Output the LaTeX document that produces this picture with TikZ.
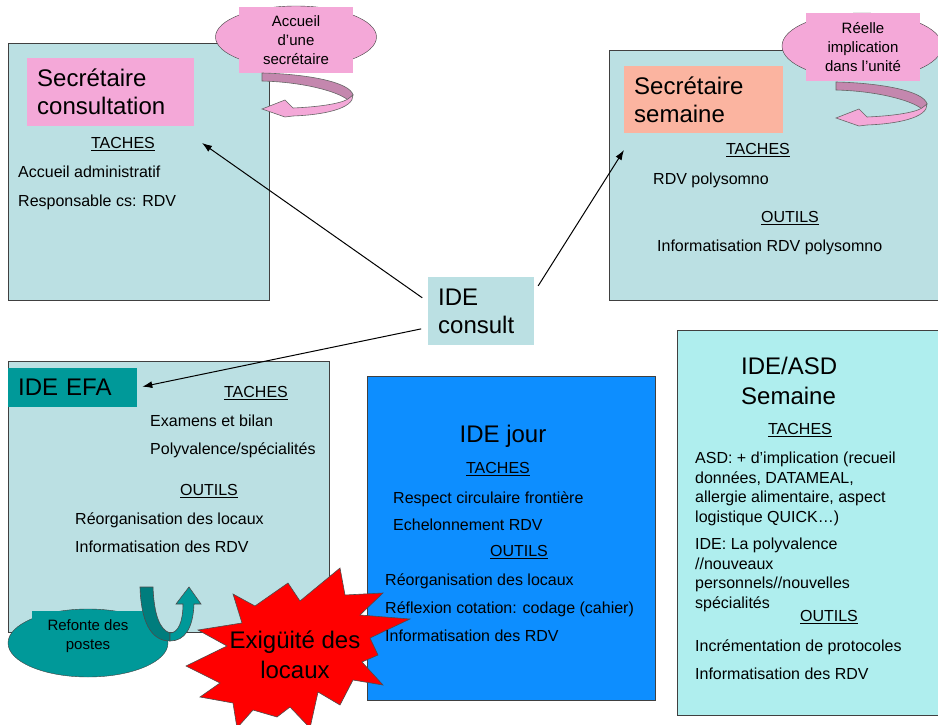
\documentclass[tikz,border=0pt]{standalone}
\usepackage{fontspec}
\setmainfont{Liberation Sans}
\usetikzlibrary{shapes.geometric, arrows.meta}

\definecolor{consblue}{HTML}{BBE0E3}
\definecolor{asdcyan}{HTML}{AFEEEE}
\definecolor{jourblue}{HTML}{0D8EFF}
\definecolor{secpink}{HTML}{F4A8D8}
\definecolor{pinkdark}{HTML}{C487AE}
\definecolor{salmon}{HTML}{FBB4A0}
\definecolor{efateal}{HTML}{009999}
\definecolor{efadark}{HTML}{007D7D}

\begin{document}
\begin{tikzpicture}[x=1pt, y=-1pt,
    box/.style={draw=black!75, line width=1pt, anchor=north west, inner sep=0pt},
    tag/.style={anchor=north west, inner xsep=10pt, inner ysep=0pt, align=left,
                font=\fontsize{24}{28}\selectfont},
    big/.style={font=\fontsize{24}{30}\selectfont, inner sep=0pt, align=left},
    head/.style={font=\fontsize{16}{19.5}\selectfont, inner sep=0pt, anchor=mid, yshift=-4pt},
    item/.style={font=\fontsize{16}{19.5}\selectfont, inner sep=0pt, anchor=mid west, yshift=-4pt},
    para/.style={font=\fontsize{16}{19.5}\selectfont, inner sep=0pt, anchor=west, align=left, yshift=-3pt},
    bubble/.style={font=\fontsize{15}{19}\selectfont, inner sep=0pt, align=center},
    link/.style={-{Latex[length=10pt,width=7pt]}, line width=1pt, shorten <=7pt},
    twist/.pic={
      \filldraw[fill=pinkdark, draw=black!60, line width=.6pt]
        (0,0) .. controls (45,1) and (88,9) .. (91,22) -- (86,27)
        .. controls (75,18) and (40,9) .. (0,8) -- cycle;
      \filldraw[fill=secpink, draw=black!60, line width=.6pt]
        (86,26) .. controls (78,31) and (55,34) .. (31,35) -- (23,27) -- (0,36)
        -- (23,44) -- (31,43) .. controls (60,42) and (92,36) .. (91,22) -- cycle;
    }]
\useasboundingbox (0,0) rectangle (938,725);

% boxes
\node[box, fill=consblue, minimum width=261pt, minimum height=257pt] (secc) at (8,43) {};
\node[box, fill=consblue, minimum width=336pt, minimum height=250pt] (secs) at (609,50) {};
\node[box, fill=consblue, minimum width=321pt, minimum height=271pt] (efabox) at (8,361) {};
\node[box, fill=jourblue, minimum width=288pt, minimum height=324pt] (jour) at (367,376) {};
\node[box, fill=asdcyan, minimum width=265pt, minimum height=385pt] (asd) at (677,330) {};

% titles
\node[tag, fill=secpink, text width=147pt, minimum height=68pt] (cons-t) at (27,58) {Secrétaire\\consultation};
\node[tag, fill=salmon, text width=139pt, minimum height=67pt] (sem-t) at (624,66) {Secrétaire\\semaine};
\node[tag, fill=efateal, text width=109pt, minimum height=39pt] (efa) at (8,368) {IDE EFA};
\node[tag, fill=consblue, text width=86pt, minimum height=68pt] (consult) at (428,277) {IDE\\consult};
\node[big, anchor=mid, yshift=-5pt] (jour-t) at (503,435) {IDE jour};
\node[big, anchor=west] (asd-t) at (741,381) {IDE/ASD\\Semaine};

% bubbles
\node[ellipse, draw=black!75, fill=secpink, minimum width=161pt, minimum height=62pt] (acc-e) at (296,37) {};
\node[bubble, fill=secpink, minimum width=114pt, minimum height=66pt] (acc) at (296,40) {Accueil\\d’une\\secrétaire};
\node[ellipse, draw=black!75, fill=secpink, minimum width=160pt, minimum height=66pt] (impl-e) at (862,46) {};
\node[bubble, fill=secpink, minimum width=114pt, minimum height=68pt] (impl) at (863,47) {Réelle\\implication\\dans l’unité};
\pic at (262,73) {twist};
\pic at (836,82) {twist};

% refonte
\node[ellipse, draw=black!75, fill=efateal, minimum width=160pt, minimum height=68pt] (ref-e) at (88,643) {};
\node[bubble, fill=efateal, minimum width=113pt, minimum height=50pt] (ref) at (88,636) {Refonte des\\postes};
\filldraw[fill=efadark, draw=black!70, line width=.6pt]
  (140,587) -- (153,587) .. controls (154,615) and (160,630) .. (170,633)
  -- (170,641) .. controls (150,641) and (141,620) .. (140,587) -- cycle;
\filldraw[fill=efateal, draw=black!70, line width=.6pt]
  (170,641) .. controls (185,641) and (193,628) .. (194,604) -- (201,604) -- (189,587)
  -- (176,604) -- (183,604) .. controls (183,622) and (178,633) .. (170,633) -- cycle;

% exiguite
\filldraw[fill=red, draw=black!70, line width=.6pt]
  (186,666) -- (227,646) -- (198,630) -- (242,623) -- (233,594) -- (255,606)
  -- (288,583) -- (300,601) -- (340,568) -- (345,595) -- (383,593) -- (360,615)
  -- (410,619) -- (370,638) -- (378,655) -- (362,662) -- (383,685) -- (353,680)
  -- (340,705) -- (318,692) -- (310,728) -- (290,707) -- (277,717) -- (253,710)
  -- (237,728) -- (233,703) -- (200,697) -- (220,683) -- cycle;
\node[big, align=center, anchor=center] (exig) at (295,655) {Exigüité des\\locaux};

% secretaire consultation
\node[head] (c-tach) at (123,142) {\underline{TACHES}};
\node[item] (c-t1) at (18,171) {Accueil administratif};
\node[item] (c-t2) at (18,200) {Responsable cs: RDV};

% secretaire semaine
\node[head] (s-tach) at (758,148) {\underline{TACHES}};
\node[item] (s-t1) at (653,178) {RDV polysomno};
\node[head] (s-out) at (790,216) {\underline{OUTILS}};
\node[item] (s-o1) at (657,245) {Informatisation RDV polysomno};

% ide efa
\node[head] (e-tach) at (256,391) {\underline{TACHES}};
\node[item] (e-t1) at (150,420) {Examens et bilan};
\node[item] (e-t2) at (150,448) {Polyvalence/spécialités};
\node[head] (e-out) at (209,489) {\underline{OUTILS}};
\node[item] (e-o1) at (75,518) {Réorganisation des locaux};
\node[item] (e-o2) at (75,546) {Informatisation des RDV};

% ide jour
\node[head] (j-tach) at (498,467) {\underline{TACHES}};
\node[item] (j-t1) at (393,497) {Respect circulaire frontière};
\node[item] (j-t2) at (393,524) {Echelonnement RDV};
\node[head] (j-out) at (519,550) {\underline{OUTILS}};
\node[item] (j-o1) at (385,579) {Réorganisation des locaux};
\node[item] (j-o2) at (385,607) {Réflexion cotation: codage (cahier)};
\node[item] (j-o3) at (385,635) {Informatisation des RDV};

% ide/asd semaine
\node[head] (a-tach) at (800,428) {\underline{TACHES}};
\node[para] (a-t1) at (695,486) {ASD: + d’implication (recueil\\données, DATAMEAL,\\allergie alimentaire, aspect\\logistique QUICK…)};
\node[para] (a-t2) at (695,572) {IDE: La polyvalence\\//nouveaux\\personnels//nouvelles\\spécialités};
\node[head] (a-out) at (829,615) {\underline{OUTILS}};
\node[item] (a-o1) at (695,645) {Incrémentation de protocoles};
\node[item] (a-o2) at (695,673) {Informatisation des RDV};

% links
\coordinate (to-cons) at (202,143);
\coordinate (to-sem) at (624,150);
\draw[link] (consult.170) -- (to-cons);
\draw[link] (consult.20) -- (to-sem);
\draw[link, shorten >=5pt] (consult.197) -- (efa.east);
\end{tikzpicture}
\end{document}
